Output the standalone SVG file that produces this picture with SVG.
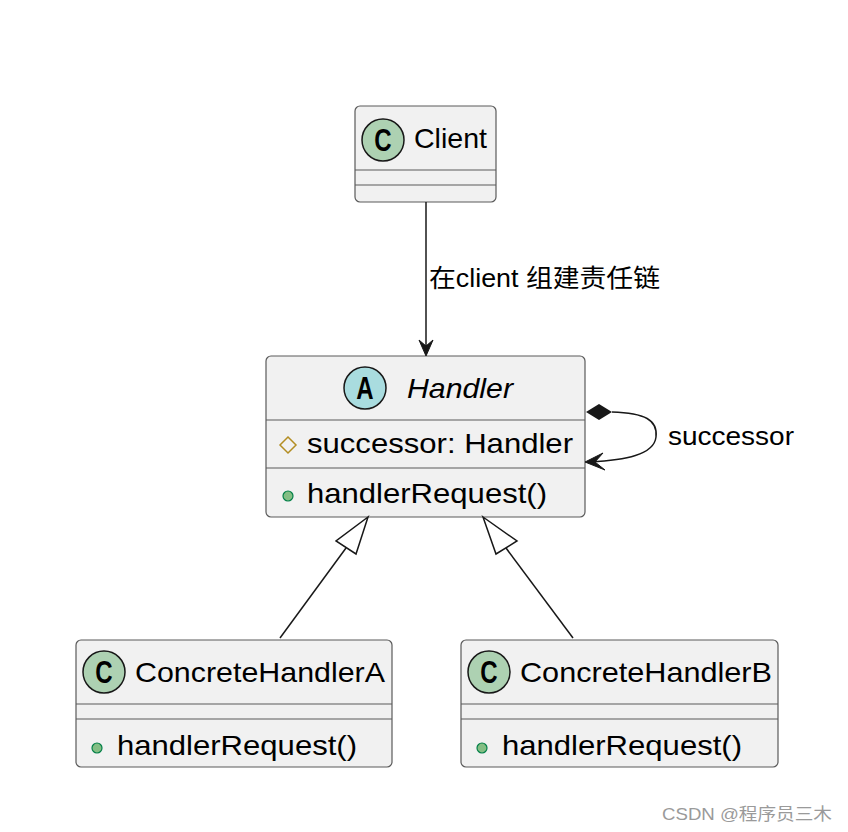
<svg xmlns="http://www.w3.org/2000/svg" width="848" height="832" viewBox="0 0 848 832">
<style>
.box{fill:#F1F1F1;stroke:#5a5a5a;stroke-width:1.2}
.sep{stroke:#5a5a5a;stroke-width:1.2}
.t{font-family:"Liberation Sans",Arial,sans-serif;font-size:28px;fill:#000}
.lbl{font-family:"Liberation Sans","Noto Sans CJK SC",sans-serif;font-size:25px;fill:#000}
.cc{fill:#ADD1B2;stroke:#181818;stroke-width:1.5}
.ca{fill:#A9DCDF;stroke:#181818;stroke-width:1.5}
.glyph{font-family:"Liberation Sans",Arial,sans-serif;font-weight:bold;font-size:32px;fill:#000}
.edge{fill:none;stroke:#181818;stroke-width:1.5}
.pub{fill:#84BE84;stroke:#038048;stroke-width:1.2}
</style>
<rect width="848" height="832" fill="#fff"/>
<g id="Client">
<rect class="box" x="355" y="106" width="141" height="96" rx="5"/>
<circle class="cc" cx="383" cy="140" r="21"/>
<text class="glyph" x="383" y="151.5" text-anchor="middle" transform="translate(383 0) scale(0.75 1) translate(-383 0)">C</text>
<text class="t" x="414" y="148" textLength="73" lengthAdjust="spacingAndGlyphs">Client</text>
<line class="sep" x1="355" y1="170" x2="496" y2="170"/>
<line class="sep" x1="355" y1="185" x2="496" y2="185"/>
</g>
<g id="Handler">
<rect class="box" x="266" y="356" width="319" height="161" rx="5"/>
<circle class="ca" cx="365" cy="388" r="21"/>
<text class="glyph" x="365" y="399.5" text-anchor="middle" transform="translate(365 0) scale(0.75 1) translate(-365 0)">A</text>
<text class="t" x="407" y="398" font-style="italic" textLength="106" lengthAdjust="spacingAndGlyphs">Handler</text>
<line class="sep" x1="266" y1="420" x2="585" y2="420"/>
<polygon points="288,437 296,445 288,453 280,445" fill="none" stroke="#B38D22" stroke-width="1.5"/>
<text class="t" x="307" y="453" textLength="266" lengthAdjust="spacingAndGlyphs">successor: Handler</text>
<line class="sep" x1="266" y1="468" x2="585" y2="468"/>
<circle class="pub" cx="288" cy="496" r="5"/>
<text class="t" x="307" y="503" textLength="240" lengthAdjust="spacingAndGlyphs">handlerRequest()</text>
</g>
<g id="ConcreteHandlerA">
<rect class="box" x="76" y="640" width="316" height="127" rx="5"/>
<circle class="cc" cx="104" cy="672" r="21"/>
<text class="glyph" x="104" y="683.5" text-anchor="middle" transform="translate(104 0) scale(0.75 1) translate(-104 0)">C</text>
<text class="t" x="135" y="682" textLength="250" lengthAdjust="spacingAndGlyphs">ConcreteHandlerA</text>
<line class="sep" x1="76" y1="704" x2="392" y2="704"/>
<line class="sep" x1="76" y1="719" x2="392" y2="719"/>
<circle class="pub" cx="97" cy="748" r="5"/>
<text class="t" x="117" y="755" textLength="240" lengthAdjust="spacingAndGlyphs">handlerRequest()</text>
</g>
<g id="ConcreteHandlerB">
<rect class="box" x="461" y="640" width="317" height="127" rx="5"/>
<circle class="cc" cx="489" cy="672" r="21"/>
<text class="glyph" x="489" y="683.5" text-anchor="middle" transform="translate(489 0) scale(0.75 1) translate(-489 0)">C</text>
<text class="t" x="520" y="682" textLength="252" lengthAdjust="spacingAndGlyphs">ConcreteHandlerB</text>
<line class="sep" x1="461" y1="704" x2="778" y2="704"/>
<line class="sep" x1="461" y1="719" x2="778" y2="719"/>
<circle class="pub" cx="482" cy="748" r="5"/>
<text class="t" x="502" y="755" textLength="240" lengthAdjust="spacingAndGlyphs">handlerRequest()</text>
</g>
<g id="connectors">
<line class="edge" x1="426" y1="202" x2="426" y2="348"/>
<polygon points="426,356 419,340 426,346 433,340" fill="#181818" stroke="#181818" stroke-width="1"/>
<text class="lbl" x="429" y="287" textLength="231" lengthAdjust="spacingAndGlyphs">在client 组建责任链</text>
<line class="edge" x1="280" y1="638" x2="346" y2="548"/>
<polygon class="edge" points="368,517 336,541 356,554"/>
<line class="edge" x1="573" y1="638" x2="506" y2="548"/>
<polygon class="edge" points="483,517 517,541 496,554"/>
<path class="edge" d="M612,412 C645,413 658,420 656,437 C654,455 625,460 590,462"/>
<polygon points="586,412 599,404 612,412 599,420" fill="#181818"/>
<polygon points="585,462 603,453 595,462 605,470" fill="#181818" stroke="#181818" stroke-width="1"/>
<text class="lbl" x="668" y="445" textLength="126" lengthAdjust="spacingAndGlyphs">successor</text>
</g>
<text x="662" y="820" font-family="Liberation Sans,'Noto Sans CJK SC',sans-serif" font-size="17" fill="#9a9a9a" textLength="170" lengthAdjust="spacingAndGlyphs">CSDN @程序员三木</text>
</svg>
